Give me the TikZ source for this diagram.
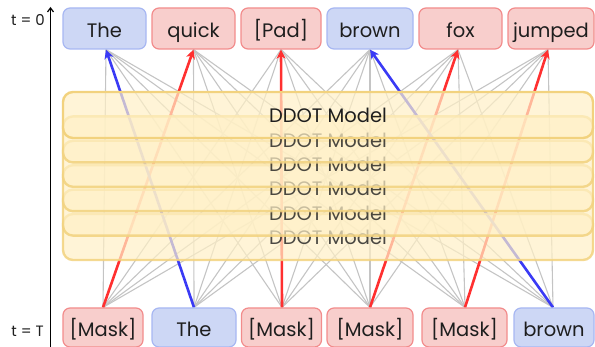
\documentclass[tikz,border=0pt]{standalone}
\usepackage{fontspec}
\setmainfont{Poppins}
\usetikzlibrary{arrows.meta}
\pgfdeclarelayer{background}
\pgfsetlayers{background,main}
\definecolor{redfill}{HTML}{F8CECC}
\definecolor{redline}{HTML}{F28C8C}
\definecolor{bluefill}{HTML}{CDD7F5}
\definecolor{blueline}{HTML}{A7B7F2}
\definecolor{modelfill}{HTML}{FFF0C6}
\definecolor{modelline}{HTML}{F2D27E}
\definecolor{linkgray}{HTML}{C4C4C4}
\definecolor{hotred}{HTML}{FF3030}
\definecolor{hotblue}{HTML}{3A3AF5}
\definecolor{ink}{HTML}{1E1E1E}
\begin{document}
\begin{tikzpicture}[x=1pt,y=-1pt,
  tok/.style={rounded corners=7pt, line width=1.2pt, inner sep=0pt,
    font=\fontsize{19.5}{19.5}\selectfont, text=ink,
    text height=17.5pt, text depth=0pt},
  redtok/.style={tok, fill=redfill, draw=redline},
  bluetok/.style={tok, fill=bluefill, draw=blueline},
  link/.style={draw=linkgray, line width=1.1pt},
  flow/.style={line width=2.6pt, -{Stealth[length=9pt,width=9pt,inset=2.5pt]}},
  model/.style={rounded corners=10pt, line width=2.4pt, draw=modelline,
    fill=modelfill, fill opacity=0.7, draw opacity=0.85, text opacity=0.8,
    minimum width=530pt, minimum height=46pt, inner sep=0pt,
    text height=15.4pt, text depth=0pt,
    font=\fontsize{19.5}{19.5}\selectfont, text=ink},
  frontmodel/.style={model, draw opacity=1, text opacity=1},
  axislabel/.style={anchor=base east, inner sep=0pt, font=\fontsize{15}{15}\selectfont, text=ink},
]
\useasboundingbox (0,0) rectangle (595,347);

% output tokens (t = 0)
\node[bluetok, minimum width=83pt, minimum height=41pt] (t1) at (104.5,28.5) {The};
\node[redtok,  minimum width=83pt, minimum height=41pt] (t2) at (193.5,28.5) {quick};
\node[redtok,  minimum width=80pt, minimum height=41pt] (t3) at (281,28.5) {[Pad]};
\node[bluetok, minimum width=86pt, minimum height=41pt] (t4) at (370,28.5) {brown};
\node[redtok,  minimum width=83pt, minimum height=41pt] (t5) at (460.5,28.5) {fox};
\node[redtok,  minimum width=86pt, minimum height=41pt] (t6) at (551,28.5) {jumped};

% input tokens (t = T)
\node[redtok,  minimum width=80pt, minimum height=39pt] (b1) at (103,327.5) {[Mask]};
\node[bluetok, minimum width=84pt, minimum height=39pt] (b2) at (194,327.5) {The};
\node[redtok,  minimum width=80pt, minimum height=39pt] (b3) at (281.5,327.5) {[Mask]};
\node[redtok,  minimum width=86pt, minimum height=39pt] (b4) at (370,327.5) {[Mask]};
\node[redtok,  minimum width=85pt, minimum height=39pt] (b5) at (464.5,327.5) {[Mask]};
\node[bluetok, minimum width=80pt, minimum height=39pt] (b6) at (554,327.5) {brown};

% entry points on the output tokens
\foreach \i/\dx in {1/1.5,2/0,3/0,4/0,5/-2.5,6/-3}
  \coordinate (in\i) at ([xshift=\dx pt]t\i.south);
\foreach \i/\dx in {1/0,2/0,3/0.5,4/0,5/0.5,6/-1}
  \coordinate (out\i) at ([xshift=\dx pt]b\i.north);

% time axis
\coordinate (axb) at (50.5,347);
\coordinate (axt) at (50.5,7);
\draw[line width=1.2pt, -{Straight Barb[length=4pt,width=6pt]}] (axb) -- (axt);
\node[axislabel] (l0) at (45,26) {t = 0};
\node[axislabel] (lT) at (44,337) {t = T};

\begin{pgfonlayer}{background}
  % every input position attends to every output position
  \foreach \b in {1,...,6}
    \foreach \t in {1,...,6}
      \draw[link] (out\b) -- (in\t);
  % where each token ends up
  \draw[flow, hotred]  (out1) -- (in2);
  \draw[flow, hotblue] (out2) -- (in1);
  \draw[flow, hotred]  (out3) -- (in3);
  \draw[flow, hotred]  (out4) -- (in5);
  \draw[flow, hotred]  (out5) -- (in6);
  \draw[flow, hotblue] (out6) -- (in4);
  % stacked denoising steps, back to front
  \node[model] (m6) at (328,237)   {DDOT Model};
  \node[model] (m5) at (328,212.6) {DDOT Model};
  \node[model] (m4) at (328,188.2) {DDOT Model};
  \node[model] (m3) at (328,163.8) {DDOT Model};
  \node[model] (m2) at (328,139.4) {DDOT Model};
  \node[frontmodel] (m1) at (328,115) {DDOT Model};
\end{pgfonlayer}
\end{tikzpicture}
\end{document}
